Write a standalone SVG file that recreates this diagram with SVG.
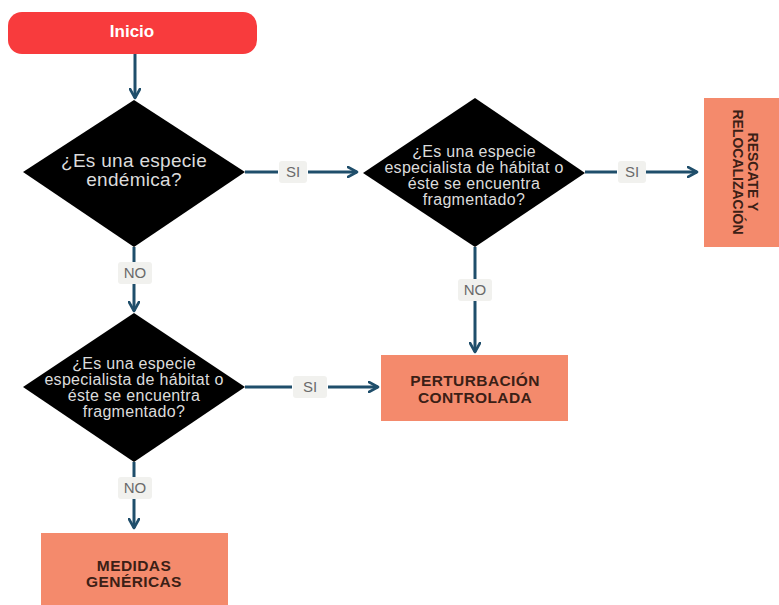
<svg xmlns="http://www.w3.org/2000/svg" width="779" height="605" viewBox="0 0 779 605">
<defs>
<marker id="ah" viewBox="0 0 12 12" refX="10" refY="6" markerWidth="12" markerHeight="12" markerUnits="userSpaceOnUse" orient="auto">
<path d="M1,1 L10,6 L1,11" fill="none" stroke="#1f4e6b" stroke-width="2.6" stroke-linejoin="round" stroke-linecap="round"/>
</marker>
</defs>
<style>
.dia{fill:#000}
.q{font-family:"Liberation Sans",Arial,sans-serif;font-size:16px;letter-spacing:0.3px;fill:#dcdcdc;text-anchor:middle}
.q1{font-size:19px;letter-spacing:0.3px}
.box{fill:#f48a6c}
.bt{font-family:"Liberation Sans",Arial,sans-serif;font-size:15.5px;font-weight:bold;fill:#3b2016;text-anchor:middle;letter-spacing:0.4px}
.vt{font-size:14px;letter-spacing:0}
.ln{stroke:#1f4e6b;stroke-width:3;fill:none}
.lb{fill:#f1f1ee}
.lt{font-family:"Liberation Sans",Arial,sans-serif;font-size:15px;fill:#6a6a6a;text-anchor:middle}
</style>
<rect width="779" height="605" fill="#fff"/>
<g id="connectors">
<line class="ln" x1="135" y1="54" x2="135" y2="98" marker-end="url(#ah)"/>
<line class="ln" x1="245" y1="172" x2="278" y2="172"/>
<line class="ln" x1="308" y1="172" x2="357" y2="172" marker-end="url(#ah)"/>
<line class="ln" x1="585" y1="172" x2="617" y2="172"/>
<line class="ln" x1="646" y1="172" x2="697" y2="172" marker-end="url(#ah)"/>
<line class="ln" x1="134" y1="247" x2="134" y2="262"/>
<line class="ln" x1="134" y1="284" x2="134" y2="311" marker-end="url(#ah)"/>
<line class="ln" x1="475" y1="247" x2="475" y2="279"/>
<line class="ln" x1="475" y1="301" x2="475" y2="352" marker-end="url(#ah)"/>
<line class="ln" x1="245" y1="387" x2="292" y2="387"/>
<line class="ln" x1="328" y1="387" x2="378" y2="387" marker-end="url(#ah)"/>
<line class="ln" x1="134" y1="462" x2="134" y2="478"/>
<line class="ln" x1="134" y1="499" x2="134" y2="528" marker-end="url(#ah)"/>
<rect class="lb" x="279" y="161" width="28" height="22" rx="3"/>
<text class="lt" x="293" y="177">SI</text>
<rect class="lb" x="618" y="161" width="28" height="22" rx="3"/>
<text class="lt" x="632" y="177">SI</text>
<rect class="lb" x="293" y="376" width="34" height="22" rx="3"/>
<text class="lt" x="310" y="392">SI</text>
<rect class="lb" x="118" y="262" width="34" height="22" rx="3"/>
<text class="lt" x="135" y="278">NO</text>
<rect class="lb" x="458" y="279" width="34" height="22" rx="3"/>
<text class="lt" x="475" y="295">NO</text>
<rect class="lb" x="118" y="477" width="34" height="22" rx="3"/>
<text class="lt" x="135" y="493">NO</text>
</g>
<g id="inicio">
<rect x="8" y="12" width="249" height="42" rx="14" fill="#f83b3d"/>
<text x="132" y="37" font-family="'Liberation Sans',Arial,sans-serif" font-size="17" font-weight="bold" fill="#fff" text-anchor="middle">Inicio</text>
</g>
<g id="q1">
<polygon class="dia" points="134,100 245,172 134,247 23,172"/>
<text class="q q1"><tspan x="134" y="167">¿Es una especie</tspan><tspan x="134" y="186">endémica?</tspan></text>
</g>
<g id="q2">
<polygon class="dia" points="475,98 585,173 475,247 363,173"/>
<text class="q"><tspan x="474" y="157">¿Es una especie</tspan><tspan x="474" y="173">especialista de hábitat o</tspan><tspan x="474" y="189">éste se encuentra</tspan><tspan x="474" y="205">fragmentado?</tspan></text>
</g>
<g id="rescate">
<rect class="box" x="704" y="98" width="75" height="149"/>
<text class="bt vt" transform="translate(748,172) rotate(90)"><tspan x="0" y="0">RESCATE Y</tspan><tspan x="0" y="15">RELOCALIZACIÓN</tspan></text>
</g>
<g id="q3">
<polygon class="dia" points="134,313 245,387 134,462 23,387"/>
<text class="q"><tspan x="134" y="369">¿Es una especie</tspan><tspan x="134" y="385">especialista de hábitat o</tspan><tspan x="134" y="401">éste se encuentra</tspan><tspan x="134" y="417">fragmentado?</tspan></text>
</g>
<g id="perturbacion">
<rect class="box" x="381" y="355" width="187" height="66"/>
<text class="bt"><tspan x="475" y="386">PERTURBACIÓN</tspan><tspan x="475" y="403">CONTROLADA</tspan></text>
</g>
<g id="medidas">
<rect class="box" x="41" y="533" width="187" height="72"/>
<text class="bt"><tspan x="134" y="571">MEDIDAS</tspan><tspan x="134" y="587">GENÉRICAS</tspan></text>
</g>
</svg>
